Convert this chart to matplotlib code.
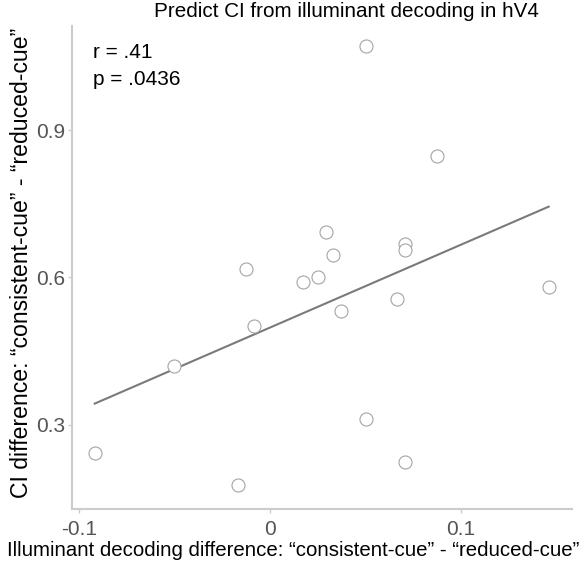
import numpy as np
import matplotlib.pyplot as plt

# illuminant decoding difference (x) and CI difference (y)
decoding_diff = [-0.0918, -0.0501, -0.0166, -0.0126, -0.0084, 0.0171, 0.0250,
                 0.0293, 0.0331, 0.0373, 0.0501, 0.0501, 0.0666, 0.0708,
                 0.0708, 0.0708, 0.0876, 0.1459]
ci_diff = [0.243, 0.420, 0.177, 0.616, 0.501, 0.590, 0.600, 0.693, 0.646,
           0.531, 1.071, 0.312, 0.556, 0.668, 0.655, 0.223, 0.847, 0.580]

x_ticks = [-0.1, 0, 0.1]
x_ticklabels = ['-0.1', '0', '0.1']
y_ticks = [0.3, 0.6, 0.9]
y_ticklabels = ['0.3', '0.6', '0.9']

plt.rcParams['font.family'] = ['Liberation Sans', 'DejaVu Sans']

x = np.array(decoding_diff)
y = np.array(ci_diff)

W, H = 582, 565
fig = plt.figure(figsize=(W / 100, H / 100), dpi=100)
ax = fig.add_axes([72 / W, 1 - 509 / H, 500 / W, 483 / H])

p = np.polyfit(x, y, 1)
yn = np.poly1d(p)
xs = np.array([x.min(), x.max()])
ax.plot(xs, yn(xs), '-', color='#7a7a7a', lw=1.5, zorder=1)

ax.scatter(x, y, s=88, facecolors='white', edgecolors='#a4a4a4',
           linewidths=0.8, zorder=2)

ax.set_xlim(-0.1037, 0.1581)
ax.set_ylim(0.128, 1.112)
ax.set_xticks(x_ticks)
ax.set_xticklabels(x_ticklabels)
ax.set_yticks(y_ticks)
ax.set_yticklabels(y_ticklabels)

for s in ['top', 'right']:
    ax.spines[s].set_visible(False)
for s in ['left', 'bottom']:
    ax.spines[s].set_color('#cccccc')
    ax.spines[s].set_linewidth(1.5)
ax.tick_params(colors='#cccccc', labelcolor='#555555', labelsize=15,
               length=3, width=1)
ax.tick_params(axis='x', pad=5)
ax.tick_params(axis='y', pad=2)

ax.set_xlabel('Illuminant decoding difference: \u201cconsistent-cue\u201d - \u201creduced-cue\u201d',
              fontsize=14.7, color='black')
ax.xaxis.set_label_coords(0.442, -0.066)
ax.set_ylabel('CI difference: \u201cconsistent-cue\u201d - \u201creduced-cue\u201d',
              fontsize=16.6, color='black')
ax.yaxis.set_label_coords(-0.078, 0.510)

fig.text(346 / W, 1 - 17 / H, 'Predict CI from illuminant decoding in hV4',
         fontsize=14.9, ha='center', va='baseline')
fig.text(93 / W, 1 - 58 / H, 'r = .41', fontsize=15, ha='left', va='baseline')
fig.text(93 / W, 1 - 85 / H, 'p = .0436', fontsize=15, ha='left', va='baseline')

fig.savefig('out.png', dpi=100)
